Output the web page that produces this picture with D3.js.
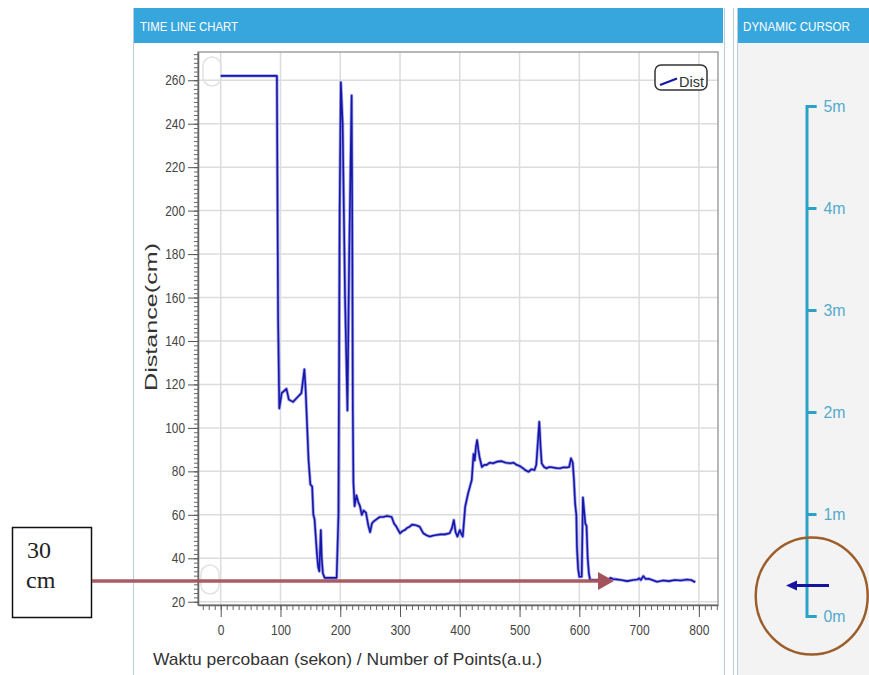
<!DOCTYPE html>
<html>
<head>
<meta charset="utf-8">
<script src="https://cdn.jsdelivr.net/npm/d3@7"></script>
<style>
  body { margin: 0; background: #fff; }
  svg { display: block; }
</style>
</head>
<body>
<div id="chart"></div>
<script>
const points = [0, 94, 96, 98, 102, 110, 114, 121, 128, 135, 140, 142, 147, 150, 153, 155, 157, 159, 161, 163, 165, 167.5, 169, 171, 174, 185, 194,
  197, 199, 201, 204, 208, 212, 215, 219, 220, 221, 222, 224, 227, 230, 233, 236, 239, 243, 247, 250, 253, 256, 261, 266, 272, 278, 286, 290,
  294, 300, 304, 308, 312, 316, 320, 325, 329, 333, 339, 345, 350, 356, 361, 368, 375, 383, 387, 390, 393, 396, 400, 403, 405, 409, 414,
  418, 420, 423, 425, 427, 429, 431, 433, 437, 441, 445, 450, 456, 463, 470, 477, 484, 490, 495, 500, 506, 510, 515, 520, 525, 528, 530,
  533, 535, 537, 541, 545, 550, 556, 562, 568, 574, 579, 583, 586, 589, 591, 593, 595, 596, 598, 600, 604, 606, 608, 610, 612, 614, 616,
  618, 630, 640, 648, 652, 656, 662, 670, 680, 690, 697, 700, 703, 707, 711, 716, 722, 730, 740, 750, 760, 770, 780, 787, 794];
const dist = [262, 262, 150, 109, 116, 118, 113, 112, 114, 116, 127, 118, 85, 74, 73, 60, 58, 50, 42, 36, 34, 53, 40, 33, 31, 31, 31,
  60, 200, 259, 240, 160, 108, 180, 253, 200, 110, 75, 64, 69, 66, 64, 60, 62, 61, 55, 52, 56, 57, 58, 59, 59, 59.5, 59, 56,
  54.5, 51.5, 52.5, 53, 54, 54.5, 55.5, 55.3, 55, 54.5, 51.5, 50.5, 50, 50.5, 50.7, 51, 51, 51.5, 54, 57.6, 52, 50, 53, 51, 50, 63.7, 70,
  74, 76, 88, 85, 91.3, 94.4, 90, 86.5, 82, 83, 83, 84, 83.7, 84.5, 84.7, 84, 83.7, 84, 83, 82.5, 81.4, 80.5, 79.8, 81, 80.6, 83, 91,
  102.8, 92, 83.7, 82, 81.4, 82, 81.8, 81.5, 81.4, 81.9, 81.8, 82, 86, 84, 76, 65, 60, 45, 35, 31.5, 31.5, 68, 62, 56, 55, 40, 33,
  30, 30, 30.5, 30, 31, 30.5, 30.3, 30, 29.5, 30, 30.2, 30.8, 30, 31.8, 30.5, 30.6, 30, 29.2, 29.8, 29.5, 30, 29.8, 30.2, 30, 29];

const xTickValues = [0, 100, 200, 300, 400, 500, 600, 700, 800];
const yTickValues = [20, 40, 60, 80, 100, 120, 140, 160, 180, 200, 220, 240, 260];
const cursorMarks = [0, 1, 2, 3, 4, 5];
const cursorValue = 0.3;   // metres shown by the dynamic cursor
const markerCm = 30;       // annotated level

const sans = '"Liberation Sans", Arial, sans-serif';
const serif = '"Liberation Serif", "DejaVu Serif", serif';

const width = 869, height = 675;
const svg = d3.select("#chart").append("svg").attr("width", width).attr("height", height);

// ---- panels
svg.append("rect").attr("x", 0).attr("y", 0).attr("width", width).attr("height", height).attr("fill", "#fff");
svg.append("rect").attr("x", 737).attr("y", 43).attr("width", 132).attr("height", 632).attr("fill", "#f3f3f3");
svg.append("rect").attr("x", 133).attr("y", 8).attr("width", 590).attr("height", 35).attr("fill", "#37a6dd");
svg.append("rect").attr("x", 737).attr("y", 8).attr("width", 132).attr("height", 35).attr("fill", "#37a6dd");
[133.5, 724.5, 733.5, 737.5].forEach((px) => {
  svg.append("line").attr("x1", px).attr("x2", px).attr("y1", 8).attr("y2", height)
    .attr("stroke", "#b6cde0").attr("stroke-width", 1);
});
svg.append("text").attr("x", 140).attr("y", 31).attr("fill", "#fff").attr("font-size", 13).style("font-family", sans)
  .attr("textLength", 98).attr("lengthAdjust", "spacingAndGlyphs").text("TIME LINE CHART");
svg.append("text").attr("x", 743).attr("y", 31).attr("fill", "#fff").attr("font-size", 13).style("font-family", sans)
  .attr("textLength", 107).attr("lengthAdjust", "spacingAndGlyphs").text("DYNAMIC CURSOR");

// ---- time line chart
const x = d3.scaleLinear().domain([-38, 832]).range([198, 718]);
const y = d3.scaleLinear().domain([18.5, 273]).range([605, 52]);

const plot = svg.append("g");
plot.append("rect").attr("x", 198).attr("y", 52).attr("width", 520).attr("height", 553).attr("fill", "#fff");

plot.selectAll("line.vgrid").data(xTickValues).join("line").attr("class", "vgrid")
  .attr("x1", (d) => x(d)).attr("x2", (d) => x(d)).attr("y1", 52).attr("y2", 605)
  .attr("stroke", "#dcdcdc").attr("stroke-width", 1.5);
plot.selectAll("line.hgrid").data(yTickValues).join("line").attr("class", "hgrid")
  .attr("x1", 198).attr("x2", 718).attr("y1", (d) => y(d)).attr("y2", (d) => y(d))
  .attr("stroke", "#dcdcdc").attr("stroke-width", 1.5);

// faint scroll handles in the corners
[[203, 57], [201, 565]].forEach(([hx, hy]) => {
  plot.append("rect").attr("x", hx).attr("y", hy).attr("width", 18).attr("height", 29).attr("rx", 9)
    .attr("fill", "none").attr("stroke", "#e2e2e2").attr("stroke-width", 1.5);
});

plot.append("rect").attr("x", 198).attr("y", 52).attr("width", 520).attr("height", 553)
  .attr("fill", "none").attr("stroke", "#a0a0a0").attr("stroke-width", 1.5);

svg.append("clipPath").attr("id", "clip").append("rect")
  .attr("x", 198).attr("y", 52).attr("width", 520).attr("height", 553);

const line = d3.line().x((d) => x(d[0])).y((d) => y(d[1]));
const series = points.map((p, i) => [p, dist[i]]);
const lines = svg.append("g").attr("clip-path", "url(#clip)");
lines.append("path").attr("d", line(series)).attr("fill", "none")
  .attr("stroke", "#5a5ae0").attr("stroke-width", 3.2).attr("stroke-opacity", 0.55).attr("stroke-linejoin", "round");
lines.append("path").attr("d", line(series)).attr("fill", "none")
  .attr("stroke", "#1616a8").attr("stroke-width", 1.6).attr("stroke-linejoin", "round");

// axes
const yMinor = d3.range(20, 273, 2);
svg.append("g").attr("transform", "translate(198,0)")
  .call(d3.axisLeft(y).tickValues(yMinor).tickSize(4).tickSizeOuter(0).tickFormat(""))
  .call((g) => g.select(".domain").remove())
  .selectAll("line").attr("stroke", "#666");
const yAxis = svg.append("g").attr("transform", "translate(198,0)")
  .call(d3.axisLeft(y).tickValues(yTickValues).tickSize(10).tickSizeOuter(0).tickPadding(3));
yAxis.select(".domain").attr("stroke", "#666").attr("stroke-width", 1.5);
yAxis.selectAll("line").attr("stroke", "#555");
yAxis.selectAll("text").attr("font-size", 14).attr("fill", "#444").style("font-family", sans)
  .attr("textLength", (d) => String(d).length * 6.6).attr("lengthAdjust", "spacingAndGlyphs");

const xMinor = d3.range(-30, 831, 10);
svg.append("g").attr("transform", "translate(0,605)")
  .call(d3.axisBottom(x).tickValues(xMinor).tickSize(5).tickSizeOuter(0).tickFormat(""))
  .call((g) => g.select(".domain").remove())
  .selectAll("line").attr("stroke", "#666");
const xAxis = svg.append("g").attr("transform", "translate(0,605)")
  .call(d3.axisBottom(x).tickValues(xTickValues).tickSize(12).tickSizeOuter(0).tickPadding(7));
xAxis.select(".domain").attr("stroke", "#666").attr("stroke-width", 1.5);
xAxis.selectAll("line").attr("stroke", "#555");
xAxis.selectAll("text").attr("font-size", 15).attr("fill", "#444").style("font-family", sans)
  .attr("textLength", (d) => String(d).length * 6.7).attr("lengthAdjust", "spacingAndGlyphs");

svg.append("text").attr("transform", "translate(157,317) rotate(-90)").attr("text-anchor", "middle")
  .attr("font-size", 16).attr("fill", "#333").style("font-family", sans)
  .attr("textLength", 148).attr("lengthAdjust", "spacingAndGlyphs")
  .text("Distance(cm)");
svg.append("text").attr("x", 153).attr("y", 665).attr("font-size", 17).attr("fill", "#333").style("font-family", sans)
  .attr("textLength", 389).attr("lengthAdjust", "spacingAndGlyphs")
  .text("Waktu percobaan (sekon) / Number of Points(a.u.)");

// legend
const legend = svg.append("g");
legend.append("rect").attr("x", 655).attr("y", 65).attr("width", 52).attr("height", 25).attr("rx", 6)
  .attr("fill", "#fff").attr("stroke", "#333").attr("stroke-width", 1.5);
legend.append("line").attr("x1", 660).attr("y1", 85).attr("x2", 677).attr("y2", 78.5)
  .attr("stroke", "#1616a8").attr("stroke-width", 2.2);
legend.append("text").attr("x", 679).attr("y", 87).attr("font-size", 14).attr("fill", "#333").style("font-family", sans)
  .attr("textLength", 25).attr("lengthAdjust", "spacingAndGlyphs").text("Dist");

// ---- annotation
svg.append("rect").attr("x", 12.5).attr("y", 527.5).attr("width", 79).attr("height", 90)
  .attr("fill", "#fff").attr("stroke", "#111").attr("stroke-width", 1.5);
svg.append("text").attr("x", 27).attr("y", 558).attr("font-size", 24).attr("fill", "#222")
  .style("font-family", serif).text(markerCm);
svg.append("text").attr("x", 26).attr("y", 588).attr("font-size", 24).attr("fill", "#222")
  .style("font-family", serif).text("cm");
const ay = y(markerCm) + 1;
svg.append("line").attr("x1", 92).attr("x2", 600).attr("y1", ay).attr("y2", ay)
  .attr("stroke", "#a4535c").attr("stroke-width", 3.5).attr("stroke-opacity", 0.95);
svg.append("path").attr("d", `M598,${ay - 9} L614,${ay} L598,${ay + 9} Z`).attr("fill", "#a4535c");

// ---- dynamic cursor
const cy = d3.scaleLinear().domain([0, 5]).range([616, 106]);
const cAxis = svg.append("g").attr("transform", "translate(806.5,0)")
  .call(d3.axisRight(cy).tickValues(cursorMarks).tickSize(10).tickSizeOuter(10).tickPadding(7).tickFormat((d) => d + "m"));
cAxis.select(".domain").attr("stroke", "#2ca3c6").attr("stroke-width", 3).attr("fill", "none");
cAxis.selectAll("line").attr("stroke", "#2ca3c6").attr("stroke-width", 3);
cAxis.selectAll("text").attr("font-size", 17).attr("fill", "#55abcb").style("font-family", sans)
  .attr("textLength", 22).attr("lengthAdjust", "spacingAndGlyphs");

const my = cy(cursorValue);
svg.append("line").attr("x1", 794).attr("x2", 829).attr("y1", my).attr("y2", my)
  .attr("stroke", "#14149e").attr("stroke-width", 3);
svg.append("path").attr("d", `M786,${my} L797,${my - 5} L797,${my + 5} Z`).attr("fill", "#14149e");

svg.append("ellipse").attr("cx", 811.7).attr("cy", 596).attr("rx", 56).attr("ry", 58.5)
  .attr("fill", "none").attr("stroke", "#9c5e2a").attr("stroke-width", 2.5);
</script>
</body>
</html>
